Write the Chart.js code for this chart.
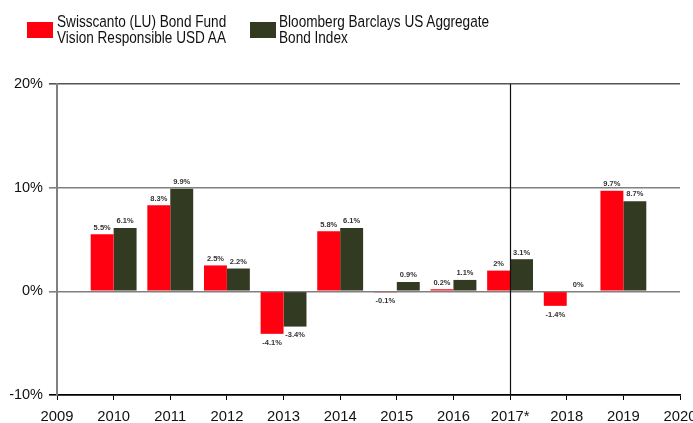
<!DOCTYPE html>
<html>
<head>
<meta charset="utf-8">
<script src="https://cdn.jsdelivr.net/npm/chart.js@4/dist/chart.umd.min.js"></script>
<style>
  html, body { margin: 0; padding: 0; background: #fff; }
  #wrap { position: relative; width: 693px; height: 423px; overflow: hidden; }
  canvas { position: absolute; left: 0; top: 0; }
  .leg { position: absolute; top: 14px; font-family: "Liberation Sans", Arial, sans-serif; font-size: 16.8px; line-height: 16px; color: #111; white-space: nowrap; transform: scaleX(0.81); transform-origin: 0 0; }
  .box { position: absolute; top: 22px; width: 26px; height: 16px; }
</style>
</head>
<body>
<div id="wrap">
  <canvas id="c" width="693" height="423"></canvas>
  <div class="box" id="box1" style="left:27px;"></div>
  <div class="leg" id="leg1" style="left:57px;"></div>
  <div class="box" id="box2" style="left:250px;"></div>
  <div class="leg" id="leg2" style="left:279px;"></div>
</div>
<script>
const categories = ['2009', '2010', '2011', '2012', '2013', '2014', '2015', '2016', '2017*', '2018', '2019', '2020'];
const fundName = ['Swisscanto (LU) Bond Fund', 'Vision Responsible USD AA'];
const indexName = ['Bloomberg Barclays US Aggregate', 'Bond Index'];
const fundValues = [null, 5.5, 8.3, 2.5, -4.1, 5.8, -0.1, 0.2, 2, -1.4, 9.7, null];
const indexValues = [null, 6.1, 9.9, 2.2, -3.4, 6.1, 0.9, 1.1, 3.1, 0, 8.7, null];
const yTicks = [-10, 0, 10, 20];
const markerCategory = '2017*';

const RED = '#ff0010';
const GREEN = '#333a22';

document.getElementById('box1').style.background = RED;
document.getElementById('box2').style.background = GREEN;
document.getElementById('leg1').innerHTML = fundName.join('<br>');
document.getElementById('leg2').innerHTML = indexName.join('<br>');

const valueLabels = {
  id: 'valueLabels',
  afterDatasetsDraw(chart) {
    const ctx = chart.ctx;
    ctx.save();
    ctx.font = 'bold 7.5px "Liberation Sans", Arial, sans-serif';
    ctx.fillStyle = '#333';
    ctx.textAlign = 'center';
    chart.data.datasets.forEach((ds, di) => {
      const meta = chart.getDatasetMeta(di);
      meta.data.forEach((bar, i) => {
        const v = ds.data[i];
        if (v === null || v === undefined) return;
        const txt = v + '%';
        if (v >= 0) {
          ctx.textBaseline = 'bottom';
          ctx.fillText(txt, bar.x, bar.y - 3);
        } else {
          ctx.textBaseline = 'top';
          ctx.fillText(txt, bar.x, bar.y + 5);
        }
      });
    });
    ctx.restore();
  }
};

const markerLine = {
  id: 'markerLine',
  afterDatasetsDraw(chart) {
    const x = chart.scales.x.getPixelForValue(categories.indexOf(markerCategory));
    const a = chart.chartArea;
    const ctx = chart.ctx;
    ctx.save();
    ctx.strokeStyle = '#111';
    ctx.lineWidth = 1.2;
    ctx.beginPath();
    ctx.moveTo(Math.round(x) + 0.5, a.top);
    ctx.lineTo(Math.round(x) + 0.5, a.bottom);
    ctx.stroke();
    ctx.restore();
  }
};

new Chart(document.getElementById('c'), {
  type: 'bar',
  data: {
    labels: categories,
    datasets: [
      { label: fundName.join(' '), data: fundValues, backgroundColor: RED, categoryPercentage: 0.81, barPercentage: 1.0 },
      { label: indexName.join(' '), data: indexValues, backgroundColor: GREEN, categoryPercentage: 0.81, barPercentage: 1.0 }
    ]
  },
  options: {
    responsive: false,
    animation: false,
    devicePixelRatio: 1,
    layout: { padding: { top: 84, right: 13, bottom: 0, left: 0 } },
    plugins: { legend: { display: false }, tooltip: { enabled: false } },
    scales: {
      x: {
        offset: false,
        afterFit(s) { s.height = 28; s.paddingRight = 0; s.paddingLeft = 0; },
        grid: { offset: false, drawOnChartArea: false, drawTicks: true, tickLength: 5, color: '#000', lineWidth: 1 },
        border: { color: '#000', width: 1.5 },
        ticks: { color: '#111', padding: 8, maxRotation: 0, autoSkip: false, font: { family: '"Liberation Sans", Arial, sans-serif', size: 14.8 } }
      },
      y: {
        min: yTicks[0],
        max: yTicks[yTicks.length - 1],
        afterFit(s) { s.width = 57; },
        afterBuildTicks(s) { s.ticks = yTicks.map(v => ({ value: v })); },
        grid: {
          color: (c) => c.tick && c.tick.value === yTicks[0] ? '#000' : (c.tick && c.tick.value === yTicks[yTicks.length - 1] ? '#555' : '#808080'),
          lineWidth: 1.6,
          tickLength: 8,
          drawTicks: true
        },
        border: { color: '#808080', width: 2 },
        ticks: { color: '#111', padding: 6, callback: (v) => v + '%', font: { family: '"Liberation Sans", Arial, sans-serif', size: 14.5 } }
      }
    }
  },
  plugins: [valueLabels, markerLine]
});
</script>
</body>
</html>
